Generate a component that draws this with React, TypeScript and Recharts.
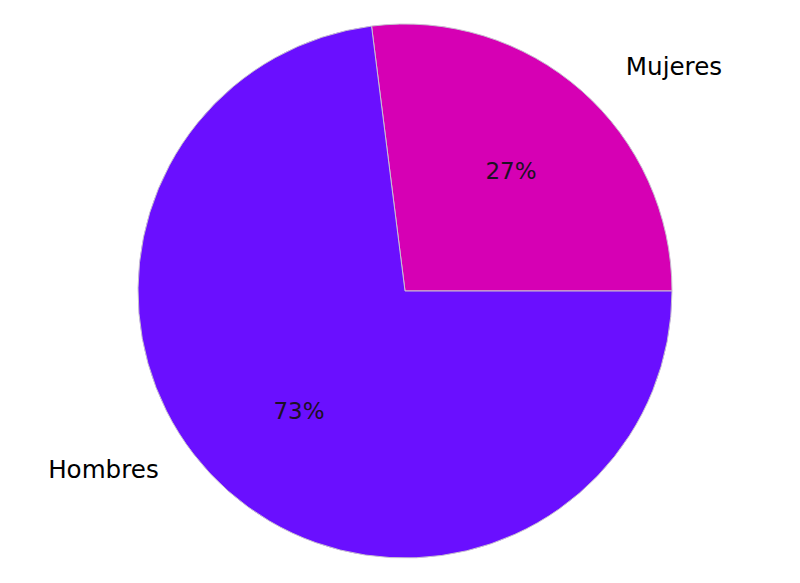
import React from 'react';
import { PieChart, Pie, Cell } from 'recharts';

const categories = ['Mujeres', 'Hombres'];
const shares = [27, 73];
const colors = ['#d600b4', '#6a0fff'];

// where each outer name sits, in polar terms relative to the pie
const namePlacement: Record<string, { angle: number; dist: number; anchor: 'start' | 'end' }> = {
  Mujeres: { angle: 45.5, dist: 1.18, anchor: 'start' },
  Hombres: { angle: 216, dist: 1.14, anchor: 'end' },
};

const data = categories.map((name, i) => ({ name, value: shares[i] }));

const RAD = Math.PI / 180;
const font = 'DejaVu Sans, sans-serif';

const renderLabel = (props: any) => {
  const { cx, cy, midAngle, outerRadius, percent, name } = props;
  const pr = outerRadius * 0.6;
  const px = cx + pr * Math.cos(-midAngle * RAD);
  const py = cy + pr * Math.sin(-midAngle * RAD);
  const place = namePlacement[name];
  const nr = outerRadius * place.dist;
  const nx = cx + nr * Math.cos(-place.angle * RAD);
  const ny = cy + nr * Math.sin(-place.angle * RAD);
  return (
    <g>
      <text x={px} y={py} fill="#1c1024" fontSize={23} fontFamily={font}
        textAnchor="middle" dominantBaseline="central">
        {`${Math.round(percent * 100)}%`}
      </text>
      <text x={nx} y={ny} fill="#000" fontSize={24.6} fontFamily={font}
        textAnchor={place.anchor} dominantBaseline="central">
        {name}
      </text>
    </g>
  );
};

const App: React.FC = () => {
  return (
    <div style={{ position: 'absolute', left: 0, top: 0, width: 800, height: 583, background: '#fff' }}>
      <PieChart width={800} height={583} margin={{ top: 0, right: 0, bottom: 0, left: 0 }}>
        <Pie
          data={data}
          dataKey="value"
          nameKey="name"
          cx={405}
          cy={291}
          outerRadius={267}
          startAngle={0}
          endAngle={360}
          stroke="#c8c0d0"
          strokeWidth={1}
          label={renderLabel}
          labelLine={false}
          isAnimationActive={false}
        >
          {data.map((d, i) => (
            <Cell key={d.name} fill={colors[i]} />
          ))}
        </Pie>
      </PieChart>
    </div>
  );
};

export default App;
